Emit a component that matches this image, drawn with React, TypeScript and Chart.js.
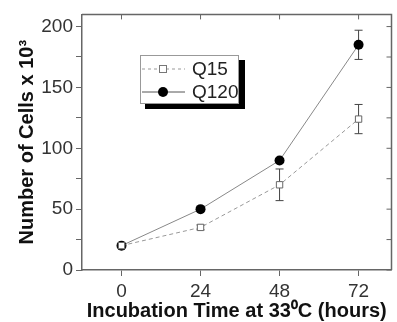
import { useEffect, useRef } from 'react';
import { Chart, registerables } from 'chart.js';
Chart.register(...registerables);

const hours = [0, 24, 48, 72];
const q15 = [20, 35, 70, 124];
const q15Err = [0, 2, 13, 12];
const q120 = [20, 50, 90, 185];
const q120Err = [0, 0, 0, 12];
const xTickValues = [0, 24, 48, 72];
const yTickValues = [0, 25, 50, 75, 100, 125, 150, 175, 200];
const yLabelValues = [0, 50, 100, 150, 200];
const seriesNames = ['Q15', 'Q120'];

const AXIS = '#666';

const extras = {
  id: 'extras',
  beforeDatasetsDraw(chart: any) {
    const { ctx, scales } = chart;
    const x = scales.x, y = scales.y;
    const sets = [
      { v: q15, e: q15Err },
      { v: q120, e: q120Err },
    ];
    ctx.save();
    ctx.strokeStyle = '#444';
    ctx.lineWidth = 1;
    sets.forEach((s) => {
      hours.forEach((h, i) => {
        if (!s.e[i]) return;
        const px = x.getPixelForValue(h);
        const top = y.getPixelForValue(s.v[i] + s.e[i]);
        const bot = y.getPixelForValue(s.v[i] - s.e[i]);
        ctx.beginPath();
        ctx.moveTo(px, top); ctx.lineTo(px, bot);
        ctx.moveTo(px - 4, top); ctx.lineTo(px + 4, top);
        ctx.moveTo(px - 4, bot); ctx.lineTo(px + 4, bot);
        ctx.stroke();
      });
    });
    ctx.restore();
  },
  afterDraw(chart: any) {
    const { ctx, chartArea: a, scales } = chart;
    ctx.save();
    ctx.strokeStyle = AXIS;
    ctx.lineWidth = 1.5;
    ctx.beginPath();
    ctx.moveTo(a.left, a.top); ctx.lineTo(a.right, a.top); ctx.lineTo(a.right, a.bottom);
    ctx.stroke();
    ctx.lineWidth = 1;
    ctx.beginPath();
    xTickValues.forEach((v) => {
      const px = scales.x.getPixelForValue(v);
      ctx.moveTo(px, a.top); ctx.lineTo(px, a.top + 5);
    });
    yTickValues.forEach((v) => {
      const py = scales.y.getPixelForValue(v);
      ctx.moveTo(a.right, py); ctx.lineTo(a.right - 5, py);
    });
    ctx.stroke();

    // legend
    const bx = 140, by = 55, bw = 98, bh = 48;
    ctx.fillStyle = '#000';
    ctx.fillRect(bx + 5, by + 5, bw + 2, bh + 1);
    ctx.fillStyle = '#fff';
    ctx.fillRect(bx, by, bw, bh);
    ctx.strokeStyle = '#999';
    ctx.lineWidth = 1;
    ctx.strokeRect(bx + 0.5, by + 0.5, bw, bh);
    const rows = [by + 14, by + 37];
    ctx.strokeStyle = '#999';
    ctx.setLineDash([3, 3]);
    ctx.beginPath();
    ctx.moveTo(bx + 2, rows[0]); ctx.lineTo(bx + 45, rows[0]);
    ctx.stroke();
    ctx.setLineDash([]);
    ctx.fillStyle = '#fff';
    ctx.fillRect(bx + 19, rows[0] - 4, 8, 8);
    ctx.strokeStyle = '#777';
    ctx.strokeRect(bx + 19.5, rows[0] - 3.5, 7, 7);
    ctx.strokeStyle = '#555';
    ctx.beginPath();
    ctx.moveTo(bx + 2, rows[1]); ctx.lineTo(bx + 45, rows[1]);
    ctx.stroke();
    ctx.fillStyle = '#000';
    ctx.beginPath();
    ctx.arc(bx + 23, rows[1], 5, 0, Math.PI * 2);
    ctx.fill();
    ctx.fillStyle = '#222';
    ctx.font = '19px "Liberation Sans", Arial, sans-serif';
    ctx.textBaseline = 'middle';
    ctx.textAlign = 'left';
    ctx.fillText(seriesNames[0], bx + 52, rows[0] + 1);
    ctx.fillText(seriesNames[1], bx + 52, rows[1] + 1);
    ctx.restore();
  },
};

export default function App() {
  const ref = useRef<HTMLCanvasElement>(null);
  useEffect(() => {
    document.body.style.margin = '0';
    const chart = new Chart(ref.current!, {
      type: 'line',
      data: {
        datasets: [
          {
            label: seriesNames[0],
            data: hours.map((h, i) => ({ x: h, y: q15[i] })),
            borderColor: '#999',
            borderWidth: 1,
            borderDash: [4, 3],
            pointStyle: 'rect',
            pointRadius: 4.5,
            pointBackgroundColor: '#fff',
            pointBorderColor: '#666',
            pointBorderWidth: 1,
          },
          {
            label: seriesNames[1],
            data: hours.map((h, i) => ({ x: h, y: q120[i] })),
            borderColor: '#888',
            borderWidth: 1,
            pointStyle: 'circle',
            pointRadius: 5,
            pointBackgroundColor: '#000',
            pointBorderColor: '#000',
            pointBorderWidth: 0,
          },
        ],
      },
      plugins: [extras],
      options: {
        animation: false,
        responsive: false,
        maintainAspectRatio: false,
        layout: { padding: { top: 12, right: 1, left: 0, bottom: 0 } },
        plugins: { legend: { display: false }, tooltip: { enabled: false } },
        scales: {
          x: {
            type: 'linear',
            min: -12,
            max: 82,
            afterBuildTicks: (s: any) => { s.ticks = xTickValues.map((v) => ({ value: v })); },
            afterFit: (s: any) => { s.height = 52; },
            grid: { drawOnChartArea: false, drawTicks: true, tickLength: 6, tickColor: AXIS },
            border: { display: true, color: AXIS, width: 1.5 },
            ticks: {
              padding: 4,
              color: '#333',
              font: { family: '"Liberation Sans", Arial, sans-serif', size: 19 },
              callback: (v: any) => String(v),
            },
            title: {
              display: true,
              text: 'Incubation Time at 33⁰C (hours)',
              color: '#111',
              font: { family: '"Liberation Sans", Arial, sans-serif', size: 20, weight: 'bold' },
              padding: { top: 0, bottom: -1 },
            },
          },
          y: {
            type: 'linear',
            min: 0,
            max: 210,
            afterBuildTicks: (s: any) => { s.ticks = yTickValues.map((v) => ({ value: v })); },
            afterFit: (s: any) => { s.width = 82; },
            grid: { drawOnChartArea: false, drawTicks: true, tickLength: 6, tickColor: AXIS },
            border: { display: true, color: AXIS, width: 1.5 },
            ticks: {
              padding: 3,
              color: '#333',
              font: { family: '"Liberation Sans", Arial, sans-serif', size: 19 },
              callback: (v: any) => (yLabelValues.includes(v) ? String(v) : ''),
            },
            title: {
              display: true,
              text: 'Number of Cells x 10³',
              color: '#111',
              font: { family: '"Liberation Sans", Arial, sans-serif', size: 20, weight: 'bold' },
              padding: { top: 15, bottom: 0 },
            },
          },
        },
      },
    } as any);
    return () => chart.destroy();
  }, []);
  return <canvas ref={ref} width={397} height={322} style={{ display: 'block' }} />;
}
